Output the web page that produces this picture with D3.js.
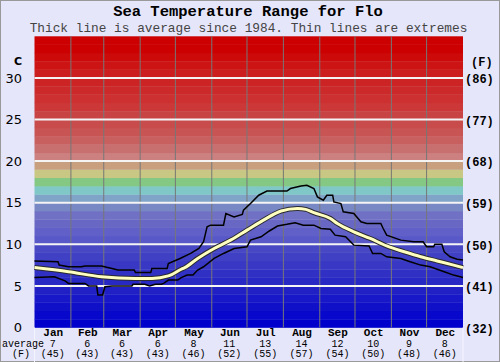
<!DOCTYPE html>
<html>
<head>
<meta charset="utf-8">
<script src="https://cdn.jsdelivr.net/npm/d3@7/dist/d3.min.js"></script>
<style>
  body { margin: 0; background: #e6e6fa; }
  svg { display: block; }
</style>
</head>
<body>
<svg></svg>
<script>
// month names and the average shown under each month
let months = ["Jan", "Feb", "Mar", "Apr", "May", "Jun", "Jul", "Aug", "Sep", "Oct", "Nov", "Dec"];
let monthDays = [31, 28, 31, 30, 31, 30, 31, 31, 30, 31, 30, 31];
let monthAvgC = [7, 6, 6, 6, 8, 11, 13, 14, 12, 10, 9, 8];
let monthAvgF = [45, 43, 43, 43, 46, 52, 55, 57, 54, 50, 48, 46];

let yTicks = [0, 5, 10, 15, 20, 25, 30];

// average line (day of year, deg C)
let avgDays = [0, 29, 57, 86, 100, 114, 125, 128, 139, 153, 167, 181, 195, 210, 224, 231, 238, 252, 258, 272, 286, 300, 315, 329, 343, 357, 365];
let avgTemps = [7.2, 6.7, 6.1, 5.9, 5.9, 6.2, 7.0, 7.2, 8.3, 9.5, 10.5, 11.7, 12.9, 14.0, 14.3, 14.2, 13.8, 13.1, 12.5, 11.5, 10.7, 9.8, 9.1, 8.5, 8.0, 7.5, 7.2];

// highest recorded
let maxDays = [0, 20, 21, 29, 40, 43, 57, 66, 71, 85, 86, 99, 100, 113, 114, 124, 133, 140, 144, 147, 150, 161, 163, 170, 177, 178, 184, 191, 198, 215, 218, 227, 232, 238, 241, 246, 249, 254, 255, 261, 263, 272, 278, 283, 295, 297, 300, 312, 323, 331, 334, 340, 341, 347, 349, 354, 360, 365];
let maxTemps = [8.0, 7.9, 7.5, 7.3, 7.3, 7.4, 7.4, 7.1, 6.9, 6.9, 6.6, 6.6, 7.1, 7.1, 7.7, 8.3, 8.9, 9.5, 10.3, 12.1, 12.3, 12.3, 13.7, 13.3, 13.6, 14.1, 14.9, 15.9, 16.4, 16.4, 16.7, 17.0, 17.1, 16.7, 15.7, 15.3, 15.9, 15.9, 15.1, 14.9, 13.9, 13.7, 12.7, 12.5, 12.5, 11.9, 11.1, 10.5, 10.3, 10.3, 9.7, 9.7, 10.0, 10.0, 9.1, 8.5, 8.2, 8.1];

// lowest recorded
let minDays = [0, 17, 26, 29, 43, 46, 53, 54, 58, 60, 66, 83, 84, 94, 98, 103, 108, 110, 114, 122, 125, 130, 135, 139, 144, 153, 161, 170, 181, 184, 193, 200, 207, 215, 222, 229, 238, 244, 252, 256, 265, 272, 285, 288, 295, 300, 312, 320, 329, 337, 349, 357, 365];
let minTemps = [6.0, 6.1, 5.6, 5.3, 5.3, 5.0, 5.0, 3.9, 3.9, 4.9, 5.0, 5.0, 5.2, 5.2, 5.0, 5.2, 5.2, 5.3, 5.7, 5.7, 6.0, 6.3, 6.3, 6.9, 7.3, 8.3, 8.9, 9.5, 9.7, 10.5, 10.9, 11.6, 12.2, 12.4, 12.6, 12.3, 12.3, 11.9, 11.8, 11.1, 10.9, 9.9, 9.8, 8.9, 8.9, 8.5, 8.3, 7.9, 7.5, 7.3, 6.7, 6.3, 6.0];

// one colour per degree, from 0 upwards
let bandColors = [
  "#0000cc", "#0808cc", "#1010c8", "#1818c8", "#2020c4",
  "#2828c4", "#3030c4", "#3838c4", "#4040c4", "#4848c4",
  "#5858c8", "#6060c8", "#6868c4", "#7070c4", "#7888c4",
  "#80a4c8", "#80c8c8", "#84c884", "#c8c884", "#c8a080",
  "#cc8080", "#c87070", "#c86060", "#c85454", "#c84c4c",
  "#c84444", "#cc3838", "#cc3030", "#cc2a2a", "#cc2424",
  "#cc1e1e", "#cc1414", "#cc0a0a", "#cc0000", "#cc0000"
];

let width = 500;
let height = 362;
let plotLeft = 34.5, plotRight = 463, plotTop = 36.3, plotBottom = 327.5;

let svg = d3.select("svg").attr("width", width).attr("height", height);

let xScale = d3.scaleLinear().domain([0, 365]).range([plotLeft, plotRight]);
let yScale = d3.scaleLinear().domain([0, 35]).range([plotBottom, plotTop]);

let mono = "'Liberation Mono', 'DejaVu Sans Mono', monospace";

svg.append("rect")
    .attr("x", 0.5).attr("y", 0.5)
    .attr("width", width - 1).attr("height", height - 1)
    .attr("fill", "#e6e6fa")
    .attr("stroke", "#999");

// colour bands
svg.selectAll("rect.band")
    .data(bandColors)
    .enter()
    .append("rect")
    .attr("class", "band")
    .attr("x", plotLeft)
    .attr("width", plotRight - plotLeft)
    .attr("y", (c, i) => yScale(i + 1))
    .attr("height", (c, i) => yScale(i) - yScale(i + 1) + 0.3)
    .attr("fill", (c) => c);

// month separators
let monthStarts = d3.cumsum(monthDays).slice(0, 11);
svg.selectAll("line.vgrid")
    .data(monthStarts)
    .enter()
    .append("line")
    .attr("x1", (d) => xScale(d)).attr("x2", (d) => xScale(d))
    .attr("y1", plotTop).attr("y2", plotBottom)
    .attr("stroke", "#777")
    .attr("stroke-width", 1);

// edges carried down under the labels
[plotLeft, plotRight].forEach((x) => {
    svg.append("line")
        .attr("x1", x).attr("x2", x)
        .attr("y1", plotBottom).attr("y2", height)
        .attr("stroke", "#f4f4ff").attr("stroke-width", 1);
});

// white lines every 5 degrees
svg.selectAll("line.hgrid")
    .data(yTicks.slice(1))
    .enter()
    .append("line")
    .attr("x1", plotLeft).attr("x2", plotRight)
    .attr("y1", (d) => yScale(d)).attr("y2", (d) => yScale(d))
    .attr("stroke", "#f4f4f4")
    .attr("stroke-width", 2);

let line = d3.line()
    .x((d) => xScale(d[0]))
    .y((d) => yScale(d[1]));

let maxData = d3.zip(maxDays, maxTemps);
let minData = d3.zip(minDays, minTemps);
let avgData = d3.zip(avgDays, avgTemps);

[maxData, minData].forEach((series) => {
    svg.append("path")
        .datum(series)
        .attr("d", line)
        .attr("fill", "none")
        .attr("stroke", "#000")
        .attr("stroke-width", 1.5);
});

let avgLine = d3.line()
    .x((d) => xScale(d[0]))
    .y((d) => yScale(d[1]))
    .curve(d3.curveMonotoneX);

svg.append("path")
    .datum(avgData)
    .attr("d", avgLine)
    .attr("fill", "none")
    .attr("stroke", "#2a2a30")
    .attr("stroke-width", 5);

svg.append("path")
    .datum(avgData)
    .attr("d", avgLine)
    .attr("fill", "none")
    .attr("stroke", "#ffffc0")
    .attr("stroke-width", 3);

// left axis in C
let yAxis = d3.axisLeft(yScale).tickValues(yTicks).tickSize(0).tickPadding(0);
let gy = svg.append("g")
    .attr("transform", "translate(22,0)")
    .call(yAxis);
gy.select(".domain").remove();
gy.selectAll("text")
    .attr("font-family", "'DejaVu Sans', sans-serif")
    .attr("font-size", 13)
    .attr("fill", "#000");

// right axis in F
let yAxisF = d3.axisRight(yScale)
    .tickValues(yTicks)
    .tickSize(0)
    .tickPadding(0)
    .tickFormat((d) => "(" + Math.round(d * 9 / 5 + 32) + ")");
let gf = svg.append("g")
    .attr("transform", "translate(465,1)")
    .call(yAxisF);
gf.select(".domain").remove();
gf.selectAll("text")
    .attr("font-family", mono)
    .attr("font-weight", "bold")
    .attr("font-size", 12)
    .attr("fill", "#000");

svg.append("text")
    .attr("x", 22).attr("y", 65)
    .attr("text-anchor", "end")
    .attr("font-family", "'DejaVu Sans', sans-serif")
    .attr("font-weight", "bold")
    .attr("font-size", 11)
    .text("C");

svg.append("text")
    .attr("x", 471).attr("y", 66)
    .attr("font-family", mono)
    .attr("font-weight", "bold")
    .attr("font-size", 12)
    .text("(F)");

// bottom month labels
let monthMids = monthDays.map((d, i) => d3.sum(monthDays.slice(0, i)) + d / 2);

let xAxis = d3.axisBottom(xScale)
    .tickValues(monthMids)
    .tickSize(0)
    .tickPadding(0)
    .tickFormat((d, i) => months[i]);
let gx = svg.append("g")
    .attr("transform", "translate(0," + (plotBottom + 1) + ")")
    .call(xAxis);
gx.select(".domain").remove();
gx.selectAll("text")
    .attr("font-family", mono)
    .attr("font-weight", "bold")
    .attr("font-size", 11)
    .attr("fill", "#000");

svg.selectAll("text.avgc")
    .data(monthAvgC)
    .enter()
    .append("text")
    .attr("x", (d, i) => xScale(monthMids[i]))
    .attr("y", 347)
    .attr("text-anchor", "middle")
    .attr("font-family", mono)
    .attr("font-size", 10)
    .text((d) => d);

svg.selectAll("text.avgf")
    .data(monthAvgF)
    .enter()
    .append("text")
    .attr("x", (d, i) => xScale(monthMids[i]))
    .attr("y", 356.5)
    .attr("text-anchor", "middle")
    .attr("font-family", mono)
    .attr("font-size", 10)
    .text((d) => "(" + d + ")");

svg.append("text")
    .attr("x", 2).attr("y", 347)
    .attr("font-family", mono)
    .attr("font-size", 10)
    .text("average");

svg.append("text")
    .attr("x", 21).attr("y", 356.5)
    .attr("text-anchor", "middle")
    .attr("font-family", mono)
    .attr("font-size", 10)
    .text("(F)");

// titles
svg.append("text")
    .attr("x", 248).attr("y", 15.5)
    .attr("text-anchor", "middle")
    .attr("font-family", mono)
    .attr("font-weight", "bold")
    .attr("font-size", 15.5)
    .text("Sea Temperature Range for Flo");

svg.append("text")
    .attr("x", 248.5).attr("y", 31.5)
    .attr("text-anchor", "middle")
    .attr("font-family", mono)
    .attr("font-size", 12.8)
    .attr("fill", "#444")
    .text("Thick line is average since 1984. Thin lines are extremes");
</script>
</body>
</html>
